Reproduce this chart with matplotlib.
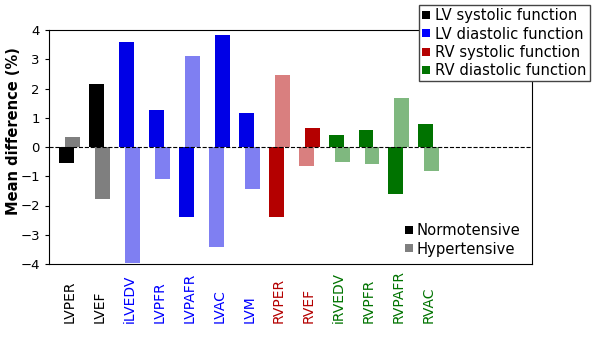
import matplotlib.pyplot as plt
import numpy as np
from matplotlib.lines import Line2D

measures = ["LVPER", "LVEF", "iLVEDV", "LVPFR", "LVPAFR", "LVAC", "LVM",
            "RVPER", "RVEF", "iRVEDV", "RVPFR", "RVPAFR", "RVAC"]
groups = ["LVs", "LVs", "LVd", "LVd", "LVd", "LVd", "LVd",
          "RVs", "RVs", "RVd", "RVd", "RVd", "RVd"]
normo = [-0.55, 2.15, 3.6, 1.25, -2.4, 3.82, 1.15,
         -2.4, 0.65, 0.42, 0.58, -1.62, 0.8]
hyper = [0.35, -1.78, -3.95, -1.1, 3.1, -3.42, -1.42,
         2.47, -0.65, -0.52, -0.57, 1.67, -0.82]
hyper_left = ["LVAC", "RVEF"]   # these two are drawn the other way round

group_names = {"LVs": "LV systolic function", "LVd": "LV diastolic function",
               "RVs": "RV systolic function", "RVd": "RV diastolic function"}
group_colors = {"LVs": "#000000", "LVd": "#0000e6",
                "RVs": "#b40000", "RVd": "#007300"}
legend_colors = {"LVs": "#000000", "LVd": "#0000ff",
                 "RVs": "#b40000", "RVd": "#007300"}

fig = plt.figure(figsize=(5.97, 3.37), dpi=100)
ax = fig.add_axes([49 / 597, 1 - 264 / 337, (532 - 49) / 597, (264 - 30) / 337])

x = np.arange(len(measures))
w = 0.5
for i, (m, g) in enumerate(zip(measures, groups)):
    c = group_colors[g]
    s = -1 if m in hyper_left else 1
    ax.bar(x[i] - 0.1 * s, normo[i], w, color=c, zorder=2)
    ax.bar(x[i] + 0.1 * s, hyper[i], w, color=c, alpha=0.5, zorder=2)

ax.axhline(0, color="black", ls="--", lw=0.8, zorder=3)
ax.set_xlim(-0.68, 15.44)
ax.set_ylim(-4, 4)
ax.set_yticks(range(-4, 5))
ax.tick_params(axis="y", labelsize=9.5, length=3)
ax.set_ylabel("Mean difference (%)", fontsize=10.5, fontweight="bold",
              va="center")
ax.yaxis.set_label_coords(-0.074, 0.566)

ax.set_xticks(x)
ax.set_xticklabels(measures, rotation=90, va="bottom", ha="center", fontsize=10)
ax.tick_params(axis="x", length=0, pad=42.5)
for lab, g in zip(ax.get_xticklabels(), groups):
    lab.set_color(legend_colors[g])

def sq(color, label, alpha=1.0):
    return Line2D([], [], ls="none", marker="s", markersize=6,
                  markerfacecolor=color, markeredgewidth=0, alpha=alpha,
                  label=label)

h1 = [sq(legend_colors[k], v) for k, v in group_names.items()]
fig.legend(handles=h1, loc="upper right", bbox_to_anchor=(0.988, 0.985),
           fontsize=10.6, handlelength=0.6, handletextpad=0.3,
           labelspacing=0.22, borderpad=0.22, borderaxespad=0,
           fancybox=False, edgecolor="#444444", framealpha=1)
h2 = [sq("black", "Normotensive"), sq("black", "Hypertensive", alpha=0.5)]
ax.legend(handles=h2, loc="lower right", fontsize=10.6, frameon=False,
          handlelength=0.6, handletextpad=0.2, labelspacing=0.25,
          borderaxespad=0.1, bbox_to_anchor=(0.99, 0.0))

fig.savefig("out.png", dpi=100)
